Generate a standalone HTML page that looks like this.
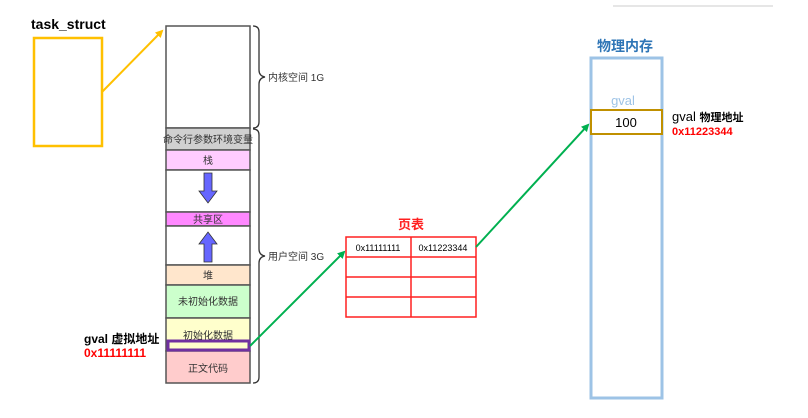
<!DOCTYPE html>
<html><head><meta charset="utf-8"><style>
html,body{margin:0;padding:0;background:#fff;width:808px;height:418px;overflow:hidden}
svg text{font-family:"Liberation Sans","Noto Sans CJK SC",sans-serif}
</style></head><body>
<svg width="808" height="418" viewBox="0 0 808 418" xmlns="http://www.w3.org/2000/svg">
<defs>
<marker id="ay" markerWidth="8" markerHeight="8" refX="6" refY="4" orient="auto" markerUnits="userSpaceOnUse"><path d="M0,0 L8,4 L0,8 z" fill="#FFC000"/></marker>
<marker id="ag" markerWidth="8" markerHeight="8" refX="6" refY="4" orient="auto" markerUnits="userSpaceOnUse"><path d="M0,0 L8,4 L0,8 z" fill="#00B050"/></marker>
</defs>
<line x1="613" y1="6" x2="773" y2="6" stroke="#ddd" stroke-width="1.5"/>
<text x="31" y="29" font-size="14" font-weight="bold" fill="#000">task_struct</text>
<rect x="34" y="38" width="68" height="108" fill="none" stroke="#FFC000" stroke-width="2.5"/>
<line x1="102" y1="92" x2="162" y2="31" stroke="#FFC000" stroke-width="2" marker-end="url(#ay)"/>
<g stroke="#555" stroke-width="1.5">
<rect x="166" y="26" width="84" height="102" fill="#fff"/>
<rect x="166" y="128" width="84" height="22" fill="#d0d0d0"/>
<rect x="166" y="150" width="84" height="20" fill="#ffccff"/>
<rect x="166" y="170" width="84" height="42" fill="#fff"/>
<rect x="166" y="212" width="84" height="14" fill="#ff88ff"/>
<rect x="166" y="226" width="84" height="39" fill="#fff"/>
<rect x="166" y="265" width="84" height="20" fill="#ffe6cc"/>
<rect x="166" y="285" width="84" height="33" fill="#ccffcc"/>
<rect x="166" y="318" width="84" height="33" fill="#ffffcc"/>
<rect x="166" y="351" width="84" height="32" fill="#ffcccc"/>
</g>
<rect x="168" y="341" width="81" height="9" fill="#ffffcc" stroke="#7030A0" stroke-width="3"/>
<g font-size="10" fill="#333" text-anchor="middle">
<text x="208" y="143">命令行参数环境变量</text>
<text x="208" y="164">栈</text>
<text x="208" y="223">共享区</text>
<text x="208" y="279">堆</text>
<text x="208" y="305">未初始化数据</text>
<text x="208" y="339">初始化数据</text>
<text x="208" y="372">正文代码</text>
</g>
<path d="M204,173 h8 v18 h5 l-9,12 l-9,-12 h5z" fill="#6666ff" stroke="#333" stroke-width="0.8"/>
<path d="M204,262 h8 v-18 h5 l-9,-12 l-9,12 h5z" fill="#6666ff" stroke="#333" stroke-width="0.8"/>
<g fill="none" stroke="#333" stroke-width="1.3">
<path d="M253,26 q6,0 6,6 v38 q0,6 6,7 q-6,1 -6,7 v38 q0,6 -6,6"/>
<path d="M253,129 q6,0 6,6 v114 q0,6 6,7 q-6,1 -6,7 v114 q0,6 -6,6"/>
</g>
<text x="268" y="81" font-size="10" fill="#333">内核空间 1G</text>
<text x="268" y="260" font-size="10" fill="#333">用户空间 3G</text>
<text x="84" y="343" font-size="12" font-weight="bold" fill="#000">gval 虚拟地址</text>
<text x="84" y="357" font-size="12" font-weight="bold" fill="#ff0000">0x11111111</text>
<line x1="250" y1="346" x2="344" y2="252" stroke="#00B050" stroke-width="2" marker-end="url(#ag)"/>
<text x="411" y="229" font-size="13" font-weight="bold" fill="#ff2020" text-anchor="middle">页表</text>
<g stroke="#ff2020" stroke-width="1.5" fill="none">
<rect x="346" y="237" width="130" height="80"/>
<line x1="346" y1="257" x2="476" y2="257"/>
<line x1="346" y1="277" x2="476" y2="277"/>
<line x1="346" y1="297" x2="476" y2="297"/>
<line x1="411" y1="237" x2="411" y2="317"/>
</g>
<text x="378" y="251" font-size="9" fill="#000" text-anchor="middle">0x11111111</text>
<text x="443" y="251" font-size="9" fill="#000" text-anchor="middle">0x11223344</text>
<line x1="476" y1="247" x2="588" y2="125" stroke="#00B050" stroke-width="2" marker-end="url(#ag)"/>
<text x="625" y="51" font-size="14" font-weight="bold" fill="#2E75B6" text-anchor="middle">物理内存</text>
<rect x="591" y="58" width="71" height="340" fill="none" stroke="#9DC3E6" stroke-width="3"/>
<text x="623" y="105" font-size="13" fill="#9DC3E6" text-anchor="middle">gval</text>
<rect x="591" y="110" width="71" height="24" fill="#fff" stroke="#C09000" stroke-width="2"/>
<text x="626" y="127" font-size="13" fill="#000" text-anchor="middle">100</text>
<text x="672" y="121" font-size="13" fill="#000">gval <tspan font-size="11" font-weight="bold">物理地址</tspan></text>
<text x="672" y="135" font-size="11" font-weight="bold" fill="#ff0000">0x11223344</text>
</svg>
</body></html>
